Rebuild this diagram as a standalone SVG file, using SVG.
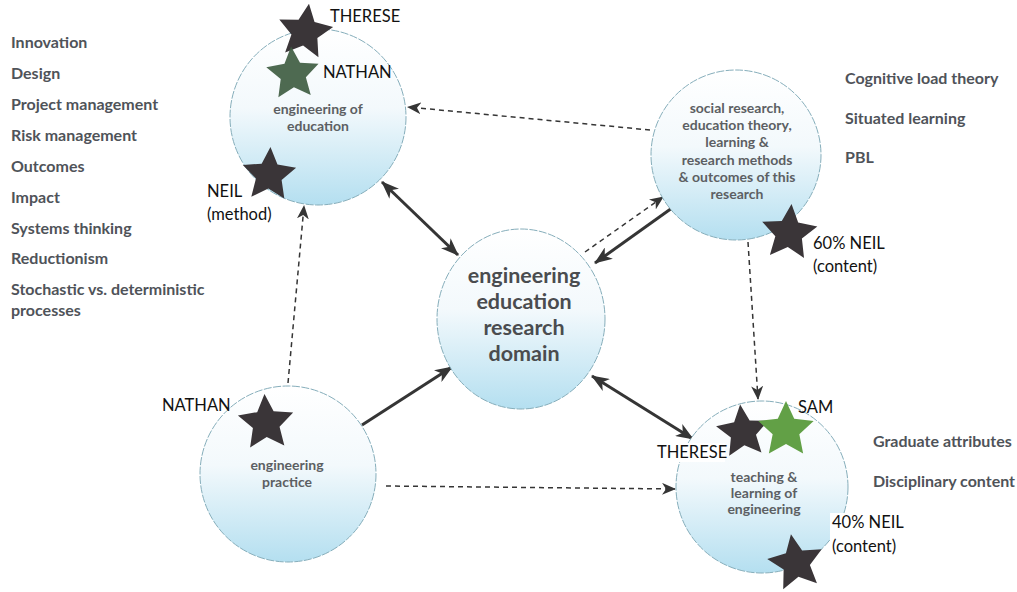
<svg xmlns="http://www.w3.org/2000/svg" width="1017" height="592" viewBox="0 0 1017 592">
  <defs>
    <linearGradient id="bubble" x1="0" y1="0" x2="0" y2="1">
      <stop offset="0" stop-color="#ffffff"/>
      <stop offset="0.45" stop-color="#f3f9fc"/>
      <stop offset="1" stop-color="#b4dff0"/>
    </linearGradient>
    <marker id="headSolid" viewBox="0 0 18 14" refX="17" refY="7" markerWidth="18" markerHeight="14" markerUnits="userSpaceOnUse" orient="auto-start-reverse">
      <path d="M0,0 L18,7 L0,14 L5,7 z" fill="#353535"/>
    </marker>
    <marker id="headDash" viewBox="0 0 14 12" refX="13" refY="6" markerWidth="14" markerHeight="12" markerUnits="userSpaceOnUse" orient="auto">
      <path d="M0,0 L14,6 L0,12 L4,6 z" fill="#353535"/>
    </marker>
    <path id="star" d="M0,-26 L7.35,-10.1 L24.7,-8 L11.9,3.9 L15.3,21 L0,12.5 L-15.3,21 L-11.9,3.9 L-24.7,-8 L-7.35,-10.1 z"/>
  </defs>
  <style>
    .bubble { fill: url(#bubble); stroke: #86aebb; stroke-width: 1; stroke-dasharray: 8 1.5; }
    .solid { stroke: #353535; stroke-width: 3; fill: none; }
    .dash { stroke: #353535; stroke-width: 1.5; stroke-dasharray: 5 4; fill: none; }
    .inner { font-family: Lato, "Liberation Sans", sans-serif; font-weight: bold; fill: #5c5f63; text-anchor: middle; font-size: 14px; }
    .core { font-family: Lato, "Liberation Sans", sans-serif; font-weight: bold; fill: #4a4c4f; text-anchor: middle; font-size: 21.5px; }
    .topic { font-family: Lato, "Liberation Sans", sans-serif; font-weight: bold; fill: #4f5359; font-size: 16px; }
    .name { font-family: Lato, "Liberation Sans", sans-serif; fill: #111111; font-size: 16.5px; }
    .tag { fill: #ffffff; }
    .star-dark { fill: #3a3538; }
    .star-moss { fill: #3f5d42; opacity: 0.92; }
    .star-green { fill: #62a046; }
  </style>

  <rect width="1017" height="592" fill="#ffffff"/>

  <!-- connectors -->
  <g id="connectors">
    <line class="dash" x1="650" y1="130" x2="408" y2="107" marker-end="url(#headDash)"/>
    <line class="solid" x1="382" y1="182" x2="458" y2="255" marker-start="url(#headSolid)" marker-end="url(#headSolid)"/>
    <line class="solid" x1="672" y1="208" x2="595" y2="263" marker-end="url(#headSolid)"/>
    <line class="dash" x1="585" y1="252" x2="663" y2="197" marker-end="url(#headDash)"/>
    <line class="dash" x1="748" y1="242" x2="758" y2="399" marker-end="url(#headDash)"/>
    <line class="solid" x1="592" y1="376" x2="693" y2="439" marker-start="url(#headSolid)" marker-end="url(#headSolid)"/>
    <line class="solid" x1="362" y1="425" x2="452" y2="367" marker-end="url(#headSolid)"/>
    <line class="dash" x1="386" y1="486" x2="675" y2="489" marker-end="url(#headDash)"/>
    <line class="dash" x1="288" y1="383" x2="304" y2="206" marker-end="url(#headDash)"/>
  </g>

  <!-- engineering of education -->
  <g id="node-engineering-of-education">
    <circle class="bubble" cx="318" cy="117" r="88"/>
    <text class="inner" x="318" y="114">engineering of</text>
    <text class="inner" x="318" y="131">education</text>
  </g>

  <!-- social research / theory -->
  <g id="node-social-research">
    <circle class="bubble" cx="736" cy="155" r="85"/>
    <text class="inner" x="737" y="113">social research,</text>
    <text class="inner" x="737" y="130">education theory,</text>
    <text class="inner" x="737" y="147">learning &amp;</text>
    <text class="inner" x="737" y="165">research methods</text>
    <text class="inner" x="737" y="182">&amp; outcomes of this</text>
    <text class="inner" x="737" y="199">research</text>
  </g>

  <!-- central domain -->
  <g id="node-domain">
    <ellipse class="bubble" cx="521" cy="319" rx="84" ry="90"/>
    <text class="core" x="524" y="283">engineering</text>
    <text class="core" x="524" y="309">education</text>
    <text class="core" x="524" y="335">research</text>
    <text class="core" x="524" y="361">domain</text>
  </g>

  <!-- engineering practice -->
  <g id="node-engineering-practice">
    <circle class="bubble" cx="288" cy="474" r="88"/>
    <text class="inner" x="287" y="470">engineering</text>
    <text class="inner" x="287" y="487">practice</text>
  </g>

  <!-- teaching and learning of engineering -->
  <g id="node-teaching-learning">
    <circle class="bubble" cx="762" cy="487" r="86"/>
    <text class="inner" x="764" y="482">teaching &amp;</text>
    <text class="inner" x="764" y="498">learning of</text>
    <text class="inner" x="764" y="514">engineering</text>
  </g>

  <!-- topic lists -->
  <g id="topics-left">
    <text class="topic" x="11" y="48">Innovation</text>
    <text class="topic" x="11" y="79">Design</text>
    <text class="topic" x="11" y="110">Project management</text>
    <text class="topic" x="11" y="141">Risk management</text>
    <text class="topic" x="11" y="172">Outcomes</text>
    <text class="topic" x="11" y="203">Impact</text>
    <text class="topic" x="11" y="234">Systems thinking</text>
    <text class="topic" x="11" y="264">Reductionism</text>
    <text class="topic" x="11" y="295">Stochastic vs. deterministic</text>
    <text class="topic" x="11" y="316">processes</text>
  </g>
  <g id="topics-right">
    <text class="topic" x="845" y="84">Cognitive load theory</text>
    <text class="topic" x="845" y="124">Situated learning</text>
    <text class="topic" x="845" y="163">PBL</text>
    <text class="topic" x="873" y="447">Graduate attributes</text>
    <text class="topic" x="873" y="487">Disciplinary content</text>
  </g>

  <!-- people markers -->
  <g id="marker-therese-top">
    <use href="#star" class="star-dark" transform="translate(305,32) rotate(8) scale(1.1)"/>
    <text class="name" x="330" y="22">THERESE</text>
  </g>
  <g id="marker-nathan-top">
    <use href="#star" class="star-moss" transform="translate(293,74) rotate(-4) scale(1.06)"/>
    <text class="name" x="323" y="78">NATHAN</text>
  </g>
  <g id="marker-neil-method">
    <use href="#star" class="star-dark" transform="translate(269,175) rotate(3) scale(1.08)"/>
    <text class="name" x="207" y="197">NEIL</text>
    <text class="name" x="207" y="220">(method)</text>
  </g>
  <g id="marker-neil-60">
    <use href="#star" class="star-dark" transform="translate(789,233) rotate(5) scale(1.12)"/>
    <rect class="tag" x="811" y="233" width="88" height="45"/>
    <text class="name" x="813" y="249">60% NEIL</text>
    <text class="name" x="813" y="272">(content)</text>
  </g>
  <g id="marker-nathan-bottom">
    <use href="#star" class="star-dark" transform="translate(266,423) rotate(-3) scale(1.12)"/>
    <text class="name" x="162" y="411">NATHAN</text>
  </g>
  <g id="marker-therese-bottom">
    <use href="#star" class="star-dark" transform="translate(743,432) rotate(-6) scale(1.06)"/>
    <rect class="tag" x="655" y="443" width="70" height="19"/>
    <text class="name" x="657" y="458">THERESE</text>
  </g>
  <g id="marker-sam">
    <use href="#star" class="star-green" transform="translate(786,430) scale(1.12)"/>
    <text class="name" x="798" y="413">SAM</text>
  </g>
  <g id="marker-neil-40">
    <use href="#star" class="star-dark" transform="translate(796,563) rotate(-10) scale(1.12)"/>
    <rect class="tag" x="830" y="513" width="78" height="44"/>
    <text class="name" x="832" y="528">40% NEIL</text>
    <text class="name" x="832" y="552">(content)</text>
  </g>
</svg>
